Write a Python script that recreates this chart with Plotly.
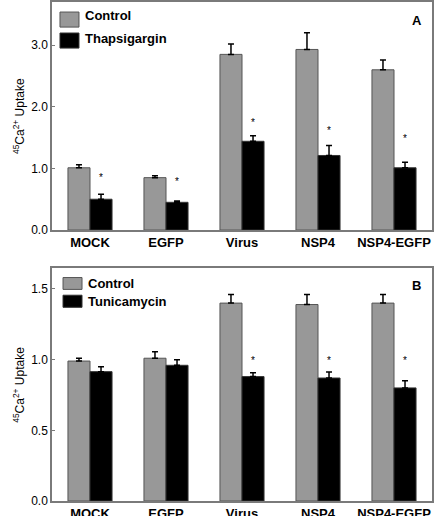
import plotly.graph_objects as go
from plotly.subplots import make_subplots

categories = ["MOCK", "EGFP", "Virus", "NSP4", "NSP4-EGFP"]

# Panel A
a_control = [1.01, 0.85, 2.85, 2.93, 2.60]
a_control_err = [0.05, 0.03, 0.17, 0.27, 0.16]
a_thaps = [0.50, 0.45, 1.44, 1.21, 1.01]
a_thaps_err = [0.08, 0.02, 0.09, 0.16, 0.09]
a_star_y = [0.85, 0.78, 1.75, 1.62, 1.49]

# Panel B
b_control = [0.99, 1.01, 1.40, 1.39, 1.40]
b_control_err = [0.02, 0.045, 0.06, 0.07, 0.06]
b_tunica = [0.915, 0.96, 0.88, 0.87, 0.80]
b_tunica_err = [0.035, 0.04, 0.028, 0.043, 0.05]
b_star_y = [None, None, 0.995, 0.995, 0.995]

y_ticks_a = [0, 1, 2, 3]
y_ticks_b = [0, 0.5, 1.0, 1.5]

GRAY = "#989898"
FONT = "Liberation Sans, Arial, sans-serif"

fig = make_subplots(rows=2, cols=1, vertical_spacing=0.0765, shared_xaxes=False)


def add_pair(row, ctrl, ctrl_err, trt, trt_err):
    zeros = [0] * len(categories)
    fig.add_trace(go.Bar(
        x=categories, y=ctrl, marker=dict(color=GRAY, line=dict(color="#555555", width=1)),
        error_y=dict(type="data", array=ctrl_err, arrayminus=zeros, symmetric=False,
                     color="black", thickness=1.5, width=3),
        showlegend=False), row=row, col=1)
    fig.add_trace(go.Bar(
        x=categories, y=trt, marker=dict(color="#000000", line=dict(color="#333333", width=1)),
        error_y=dict(type="data", array=trt_err, arrayminus=zeros, symmetric=False,
                     color="black", thickness=1.5, width=3),
        showlegend=False), row=row, col=1)


add_pair(1, a_control, a_control_err, a_thaps, a_thaps_err)
add_pair(2, b_control, b_control_err, b_tunica, b_tunica_err)

fig.update_layout(
    width=434, height=516,
    margin=dict(l=52, r=2, t=2, b=15),
    barmode="group", bargap=0.42, bargroupgap=0,
    plot_bgcolor="white", paper_bgcolor="white",
    font=dict(family=FONT, color="black", size=12),
)
fig.update_yaxes(row=1, col=1, domain=[0.543, 1.0])
fig.update_yaxes(row=2, col=1, domain=[0.0, 0.466])

axis_common = dict(showline=True, linecolor="#7a7a7a", linewidth=1.5, mirror=True,
                   showgrid=False, zeroline=False, automargin=False)
fig.update_xaxes(**axis_common, ticks="", tickfont=dict(size=13, weight="bold", family=FONT))
fig.update_yaxes(**axis_common, ticks="inside", ticklen=3, tickcolor="#7a7a7a",
                 tickformat=".1f", tickfont=dict(size=12, family=FONT))
fig.update_yaxes(row=1, col=1, range=[0, 3.7], tickvals=y_ticks_a)
fig.update_yaxes(row=2, col=1, range=[0, 1.645], tickvals=y_ticks_b)

ytitle = "<sup>45</sup>Ca<sup>2+</sup> Uptake"
for xr, yr, label, t1, t2, leg in [
    ("x", "y", "A", "Control", "Thapsigargin",
     dict(g=(0.956, 0.890), k=(0.864, 0.798), tg=0.939, tk=0.842, x0=0.021, x1=0.071, tx=0.082, ly=0.92)),
    ("x2", "y2", "B", "Control", "Tunicamycin",
     dict(g=(0.961, 0.910), k=(0.885, 0.833), tg=0.936, tk=0.859, x0=0.029, x1=0.079, tx=0.089, ly=0.928)),
]:
    xd, yd = xr + " domain", yr + " domain"
    fig.add_shape(type="rect", xref=xd, yref=yd, x0=leg["x0"], x1=leg["x1"],
                  y0=leg["g"][1], y1=leg["g"][0], fillcolor=GRAY,
                  line=dict(color="#555555", width=1))
    fig.add_shape(type="rect", xref=xd, yref=yd, x0=leg["x0"], x1=leg["x1"],
                  y0=leg["k"][1], y1=leg["k"][0], fillcolor="black",
                  line=dict(color="#333333", width=1))
    fig.add_annotation(xref=xd, yref=yd, x=leg["tx"], y=leg["tg"], text="<b>%s</b>" % t1,
                       showarrow=False, xanchor="left", yanchor="middle",
                       font=dict(size=13, family=FONT))
    fig.add_annotation(xref=xd, yref=yd, x=leg["tx"], y=leg["tk"], text="<b>%s</b>" % t2,
                       showarrow=False, xanchor="left", yanchor="middle",
                       font=dict(size=13, family=FONT))
    fig.add_annotation(xref=xd, yref=yd, x=0.96, y=leg["ly"], text="<b>%s</b>" % label,
                       showarrow=False, xanchor="center", yanchor="middle",
                       font=dict(size=13, family=FONT))
    fig.add_annotation(xref="paper", yref=yd, x=0, y=0.5, xshift=-33, text=ytitle,
                       textangle=-90, showarrow=False, xanchor="center", yanchor="middle",
                       font=dict(size=12, family=FONT))

for xr, yr, stars in [("x", "y", a_star_y), ("x2", "y2", b_star_y)]:
    for cat, sy in zip(categories, stars):
        if sy is None:
            continue
        fig.add_annotation(xref=xr, yref=yr, x=cat, y=sy, xshift=11, text="*",
                           showarrow=False, xanchor="center", yanchor="middle",
                           font=dict(size=10, family=FONT))

fig.write_html("out.html", config={"displayModeBar": False},
               post_script="document.body.style.margin='0';document.body.style.overflow='hidden';")
